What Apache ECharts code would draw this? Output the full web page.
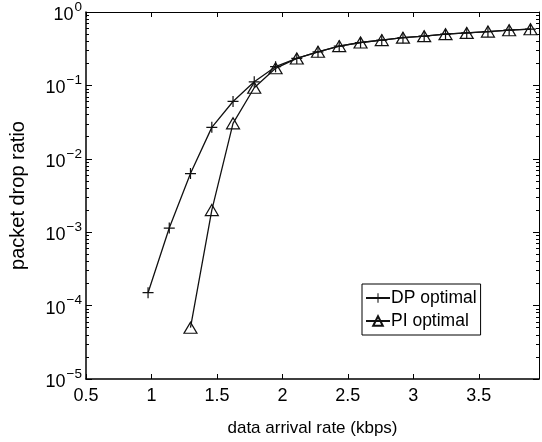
<!DOCTYPE html>
<html lang="en">
<head>
    <meta charset="UTF-8">
    <title>packet drop ratio</title>
    <script src="https://cdn.jsdelivr.net/npm/echarts@6.0.0/dist/echarts.min.js"></script>
    <style>
        html, body { margin: 0; padding: 0; background: #fff; }
    </style>
</head>
<body>

<div id="main" style="width:542px;height:442px"></div>
<script type="text/javascript">

    // data arrival rate (kbps)
    var rates = [0.974, 1.136, 1.298, 1.461, 1.623, 1.785, 1.948, 2.110, 2.272, 2.434,
        2.597, 2.759, 2.921, 3.083, 3.246, 3.408, 3.570, 3.732, 3.895];

    var dpOptimal = [1.50e-4, 1.14e-3, 6.3e-3, 0.0268, 0.0604, 0.112, 0.180, 0.233, 0.287, 0.343,
        0.384, 0.414, 0.447, 0.469, 0.499, 0.519, 0.541, 0.565, 0.583];

    // PI optimal starts at the third rate
    var piOptimal = [null, null, 5.0e-5, 2.0e-3, 0.0304, 0.093, 0.171, 0.233, 0.287, 0.343,
        0.384, 0.414, 0.447, 0.469, 0.499, 0.519, 0.541, 0.565, 0.583];

    var xTicks = [0.5, 1, 1.5, 2, 2.5, 3, 3.5];
    var yExponents = [-5, -4, -3, -2, -1, 0];

    function pairs(ys) {
        var out = [];
        for (var i = 0; i < rates.length; i++) {
            if (ys[i] != null) out.push([rates[i], ys[i]]);
        }
        return out;
    }

    // minor ticks of the log axis (2..9 in each decade), in log10 units
    var minorTicks = [];
    for (var e = -5; e < 0; e++) {
        for (var m = 2; m <= 9; m++) minorTicks.push(e + Math.log10(m));
    }

    var font = 'Liberation Sans, Arial, Helvetica, sans-serif';
    var plusPath = 'path://M0,4.45H10V5.55H0Z M4.45,0H5.55V10H4.45Z';

    var option = {
        animation: false,
        backgroundColor: '#fff',
        textStyle: { fontFamily: font, color: '#000' },
        grid: { left: 85, right: 3, top: 10, bottom: 63, containLabel: false },
        legend: {
            left: 362, top: 284,
            orient: 'vertical',
            backgroundColor: '#fff',
            borderColor: '#000',
            borderWidth: 1,
            borderRadius: 0,
            padding: [5, 4, 5, 3],
            itemGap: 5,
            itemWidth: 24,
            itemHeight: 12,
            textStyle: { fontFamily: font, fontSize: 17.5, color: '#000', padding: [0, 0, 0, -4] },
            data: ['DP optimal', 'PI optimal']
        },
        xAxis: [
            {
                type: 'value', min: 0.5, max: 3.96, interval: 0.5,
                position: 'bottom',
                name: 'data arrival rate (kbps)',
                nameLocation: 'middle', nameGap: 41,
                nameTextStyle: { fontFamily: font, fontSize: 17, color: '#000' },
                axisLine: { show: true, onZero: false, lineStyle: { color: '#000', width: 1.5 } },
                axisTick: { show: true, inside: true, length: 5, lineStyle: { color: '#000' } },
                axisLabel: {
                    customValues: xTicks, margin: 8,
                    fontFamily: font, fontSize: 18, color: '#000'
                },
                splitLine: { show: false }
            },
            {
                type: 'value', min: 0.5, max: 3.96, interval: 0.5,
                position: 'top',
                axisLine: { show: true, onZero: false, lineStyle: { color: '#000', width: 1 } },
                axisTick: { show: true, inside: true, length: 5, lineStyle: { color: '#000' } },
                axisLabel: { show: false },
                splitLine: { show: false }
            }
        ],
        yAxis: [
            {
                type: 'log', logBase: 10, min: 1e-5, max: 1,
                position: 'left',
                name: 'packet drop ratio',
                nameLocation: 'middle', nameGap: 58,
                nameTextStyle: { fontFamily: font, fontSize: 20, color: '#000' },
                axisLine: { show: true, onZero: false, lineStyle: { color: '#000', width: 1.5 } },
                axisTick: { show: true, inside: true, length: 6, lineStyle: { color: '#000' } },
                axisLabel: {
                    margin: 4,
                    formatter: function (v) {
                        var ex = Math.round(Math.log10(v));
                        if (yExponents.indexOf(ex) < 0) return '';
                        return '{b|10}{s|' + (ex < 0 ? '\u2212' + (-ex) : ex) + '}';
                    },
                    rich: {
                        b: { fontFamily: font, fontSize: 18, color: '#000', lineHeight: 24, verticalAlign: 'bottom' },
                        s: { fontFamily: font, fontSize: 13.5, color: '#000', lineHeight: 24, verticalAlign: 'top', padding: [0, 0, 0, 1] }
                    }
                },
                splitLine: { show: false }
            },
            {
                type: 'log', logBase: 10, min: 1e-5, max: 1,
                position: 'right',
                axisLine: { show: true, onZero: false, lineStyle: { color: '#000', width: 1 } },
                axisTick: { show: true, inside: true, length: 6, lineStyle: { color: '#000' } },
                axisLabel: { show: false },
                splitLine: { show: false }
            },
            {
                type: 'value', min: -5, max: 0,
                position: 'left',
                axisLine: { show: false },
                axisTick: { show: true, inside: true, length: 3, customValues: minorTicks, lineStyle: { color: '#000' } },
                axisLabel: { show: false },
                splitLine: { show: false }
            },
            {
                type: 'value', min: -5, max: 0,
                position: 'right',
                axisLine: { show: false },
                axisTick: { show: true, inside: true, length: 3, customValues: minorTicks, lineStyle: { color: '#000' } },
                axisLabel: { show: false },
                splitLine: { show: false }
            }
        ],
        series: [
            {
                name: 'DP optimal',
                type: 'line',
                xAxisIndex: 0, yAxisIndex: 0,
                data: pairs(dpOptimal),
                symbol: plusPath,
                symbolSize: 11,
                showAllSymbol: true,
                lineStyle: { color: '#111', width: 1.3 },
                itemStyle: { color: '#111' },
                z: 3
            },
            {
                name: 'PI optimal',
                type: 'line',
                xAxisIndex: 0, yAxisIndex: 0,
                data: pairs(piOptimal),
                symbol: 'triangle',
                symbolSize: [13, 11],
                showAllSymbol: true,
                lineStyle: { color: '#111', width: 1.3 },
                itemStyle: { color: 'transparent', borderColor: '#111', borderWidth: 1.2 },
                z: 2
            }
        ]
    };

    window.onload = function () {
        var myChart = echarts.init(document.getElementById('main'));
        myChart.setOption(option, true);
    };

</script>

</body>
</html>
